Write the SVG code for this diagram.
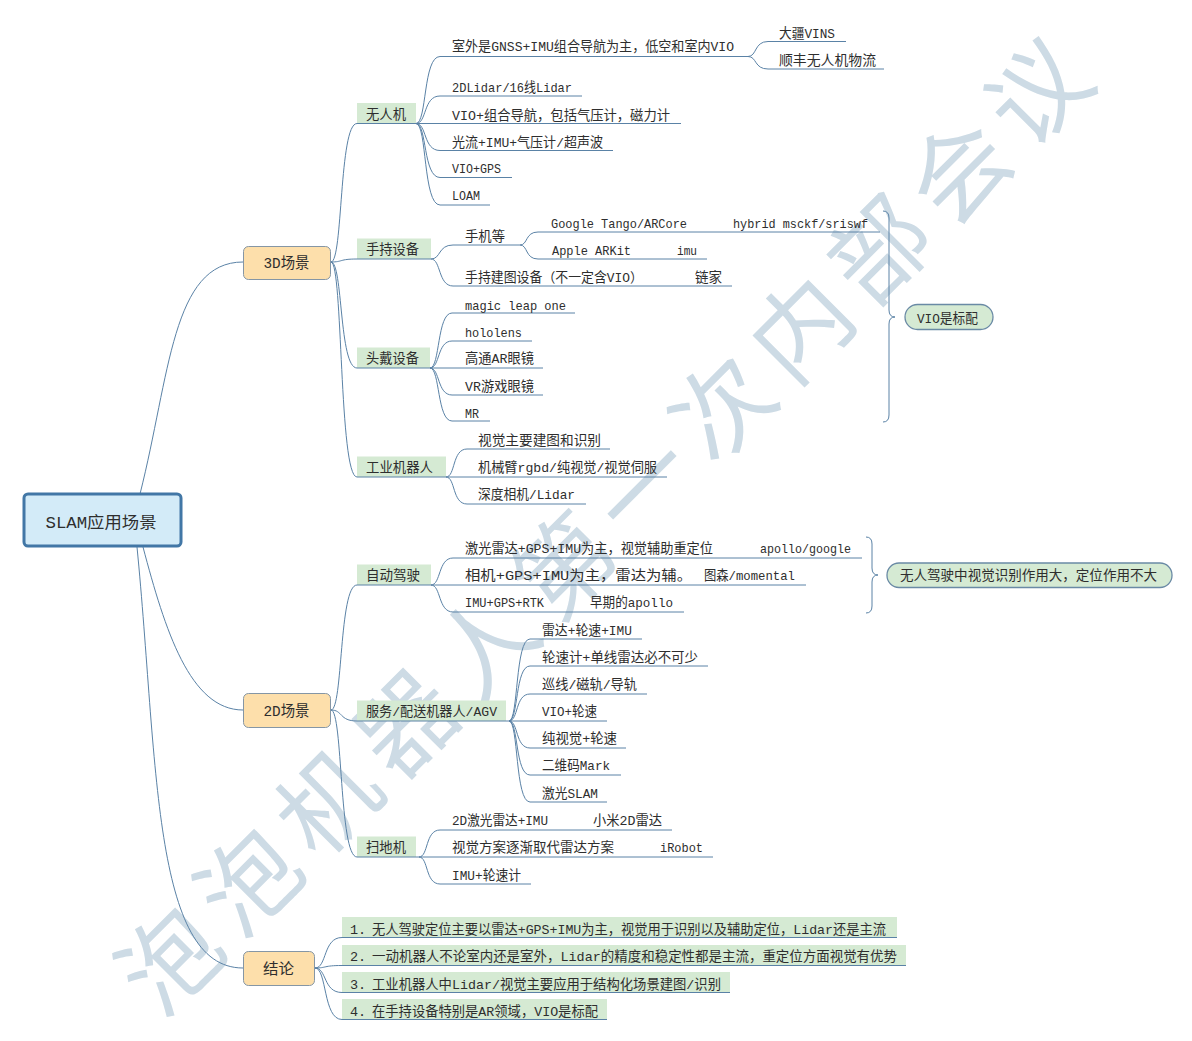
<svg xmlns="http://www.w3.org/2000/svg" width="1192" height="1041" viewBox="0 0 1192 1041">
<style>
  .t{font-family:"Liberation Mono","Noto Sans CJK SC",monospace;font-size:13.5px;fill:#2e2e2e}
  .h{font-family:"Liberation Mono","Noto Sans CJK SC",monospace;font-size:15px;fill:#2e2e2e;text-anchor:middle}
  .ln{fill:none;stroke:#5a82a6;stroke-width:1}
  .l1{fill:#fddfab;stroke:#8596a5;stroke-width:1}
  .l2{fill:#d5ead3}
  .pill{fill:#d5ead3;stroke:#6a8aa5;stroke-width:1.3}
  .wm{font-family:"Noto Sans CJK SC",sans-serif;font-size:98px;fill:#cddbe5;text-anchor:middle;dominant-baseline:central}
</style>
<rect width="1192" height="1041" fill="#ffffff"/>

<!-- background watermark, one glyph per step along the diagonal -->
<g id="watermark" class="wm">
  <text transform="translate(165,955) rotate(-45)">泡</text>
  <text transform="translate(243.9,876.1) rotate(-45)">泡</text>
  <text transform="translate(322.8,797.2) rotate(-45)">机</text>
  <text transform="translate(401.7,718.3) rotate(-45)">器</text>
  <text transform="translate(480.6,639.4) rotate(-45)">人</text>
  <text transform="translate(559.5,560.5) rotate(-45)">第</text>
  <text transform="translate(638.4,481.6) rotate(-45)">一</text>
  <text transform="translate(717.3,402.7) rotate(-45)">次</text>
  <text transform="translate(796.2,323.8) rotate(-45)">内</text>
  <text transform="translate(875.1,244.9) rotate(-45)">部</text>
  <text transform="translate(954,166) rotate(-45)">会</text>
  <text transform="translate(1033,87) rotate(-45)">议</text>
</g>

<!-- curved branch connectors -->
<g id="connectors" class="ln">
  <path d="M140,494C170,375 172,262 243,262"/>
  <path d="M143,547C165,630 190,710 243,710"/>
  <path d="M137,547C158,760 152,968 243,968"/>

  <path d="M331,262C343,262 339,123.5 357,123.5"/>
  <path d="M331,262C343,262 339,259 357,259"/>
  <path d="M331,262C343,262 339,368 357,368"/>
  <path d="M331,262C343,262 339,477 357,477"/>

  <path d="M331,710C343,710 339,585 357,585"/>
  <path d="M331,710C343,710 339,721 357,721"/>
  <path d="M331,710C343,710 339,857 357,857"/>

  <path d="M315,968C327,968 323,937.5 342,937.5"/>
  <path d="M315,968C327,968 323,965.5 342,965.5"/>
  <path d="M315,968C327,968 323,992.5 342,992.5"/>
  <path d="M315,968C327,968 323,1019.5 342,1019.5"/>

  <path d="M416,123.5C427,123.5 423,56.5 440,56.5"/>
  <path d="M416,123.5C427,123.5 423,96 440,96"/>
  <path d="M416,123.5C427,123.5 423,150.5 440,150.5"/>
  <path d="M416,123.5C427,123.5 423,177.5 440,177.5"/>
  <path d="M416,123.5C427,123.5 423,205 440,205"/>
  <path d="M748,56.5C757,56.5 754,41.5 768,41.5"/>
  <path d="M748,56.5C757,56.5 754,69 768,69"/>

  <path d="M431,259C441,259 438,245 453,245"/>
  <path d="M431,259C441,259 438,286 453,286"/>
  <path d="M520,245C528,245 525,232 538,232"/>
  <path d="M520,245C528,245 525,259 538,259"/>

  <path d="M430,368C440,368 437,313 452,313"/>
  <path d="M430,368C440,368 437,341 452,341"/>
  <path d="M430,368C440,368 437,395 452,395"/>
  <path d="M430,368C440,368 437,421 452,421"/>

  <path d="M446,477C455.5,477 452,449 467,449"/>
  <path d="M446,477C455.5,477 452,504 467,504"/>

  <path d="M431,585C441,585 438,558 453,558"/>
  <path d="M431,585C441,585 438,612 453,612"/>

  <path d="M509,721C518.5,721 515,639 530,639"/>
  <path d="M509,721C518.5,721 515,666 530,666"/>
  <path d="M509,721C518.5,721 515,694 530,694"/>
  <path d="M509,721C518.5,721 515,748 530,748"/>
  <path d="M509,721C518.5,721 515,775 530,775"/>
  <path d="M509,721C518.5,721 515,802 530,802"/>

  <path d="M419,857C428.5,857 425,830 440,830"/>
  <path d="M419,857C428.5,857 425,884 440,884"/>

  <!-- summary braces -->
  <path d="M883,211Q889,211 889,218L889,310Q889,317 895,317Q889,317 889,324L889,415Q889,422 883,422"/>
  <path d="M866,537Q872,537 872,544L872,568Q872,575 878,575Q872,575 872,582L872,606Q872,613 866,613"/>
</g>

<!-- root -->
<g id="root">
  <rect x="24" y="494" width="157" height="52" rx="4" fill="#d3ebf8" stroke="#4277a6" stroke-width="3"/>
  <text class="h" x="101" y="527.5" style="font-size:16px" textLength="111" lengthAdjust="spacingAndGlyphs">SLAM应用场景</text>
</g>

<!-- first level topics -->
<g id="scene3d">
  <rect class="l1" x="243.5" y="246.5" width="87" height="33" rx="5"/>
  <text class="h" x="286.5" y="268" textLength="46" lengthAdjust="spacingAndGlyphs">3D场景</text>
</g>
<g id="scene2d">
  <rect class="l1" x="243.5" y="693.5" width="87" height="34" rx="5"/>
  <text class="h" x="286.5" y="715.5" textLength="46" lengthAdjust="spacingAndGlyphs">2D场景</text>
</g>
<g id="conclusion">
  <rect class="l1" x="243.5" y="951.5" width="71" height="34" rx="5"/>
  <text class="h" x="278.5" y="973.5" textLength="31" lengthAdjust="spacingAndGlyphs">结论</text>
</g>

<!-- 3D: drones -->
<g id="drone">
  <rect class="l2" x="357" y="103" width="59" height="20.5"/>
  <path class="ln" d="M357,123.5H416"/>
  <text class="t" x="366" y="118.5" textLength="40" lengthAdjust="spacingAndGlyphs">无人机</text>
</g>
<g id="drone-gnss">
  <path class="ln" d="M440,56.5H748"/>
  <text class="t" x="452" y="51" textLength="282" lengthAdjust="spacingAndGlyphs">室外是GNSS+IMU组合导航为主，低空和室内VIO</text>
</g>
<g id="drone-dji">
  <path class="ln" d="M768,41.5H846"/>
  <text class="t" x="779" y="38" textLength="56" lengthAdjust="spacingAndGlyphs">大疆VINS</text>
</g>
<g id="drone-sf">
  <path class="ln" d="M768,69H884"/>
  <text class="t" x="779" y="65" textLength="97" lengthAdjust="spacingAndGlyphs">顺丰无人机物流</text>
</g>
<g id="drone-lidar">
  <path class="ln" d="M440,96H582"/>
  <text class="t" x="452" y="92" textLength="120" lengthAdjust="spacingAndGlyphs">2DLidar/16线Lidar</text>
</g>
<g id="drone-vio">
  <path class="ln" d="M416,123.5H681"/>
  <text class="t" x="452" y="120" textLength="218" lengthAdjust="spacingAndGlyphs">VIO+组合导航，包括气压计，磁力计</text>
</g>
<g id="drone-flow">
  <path class="ln" d="M440,150.5H613"/>
  <text class="t" x="452" y="147" textLength="151" lengthAdjust="spacingAndGlyphs">光流+IMU+气压计/超声波</text>
</g>
<g id="drone-gps">
  <path class="ln" d="M440,177.5H512"/>
  <text class="t" x="452" y="173" textLength="49" lengthAdjust="spacingAndGlyphs">VIO+GPS</text>
</g>
<g id="drone-loam">
  <path class="ln" d="M440,205H490"/>
  <text class="t" x="452" y="200" textLength="28" lengthAdjust="spacingAndGlyphs">LOAM</text>
</g>

<!-- 3D: handheld -->
<g id="handheld">
  <rect class="l2" x="357" y="238.5" width="74" height="20.5"/>
  <path class="ln" d="M357,259H431"/>
  <text class="t" x="366" y="253.5" textLength="53" lengthAdjust="spacingAndGlyphs">手持设备</text>
</g>
<g id="handheld-phone">
  <path class="ln" d="M453,245H520"/>
  <text class="t" x="465" y="241" textLength="40" lengthAdjust="spacingAndGlyphs">手机等</text>
</g>
<g id="handheld-tango">
  <path class="ln" d="M538,232H880"/>
  <text class="t" x="551" y="228" textLength="136" lengthAdjust="spacingAndGlyphs">Google Tango/ARCore</text>
  <text class="t" x="733" y="228" textLength="135" lengthAdjust="spacingAndGlyphs">hybrid msckf/sriswf</text>
</g>
<g id="handheld-arkit">
  <path class="ln" d="M538,259H707"/>
  <text class="t" x="552" y="255" textLength="79" lengthAdjust="spacingAndGlyphs">Apple ARKit</text>
  <text class="t" x="677" y="255" textLength="20" lengthAdjust="spacingAndGlyphs">imu</text>
</g>
<g id="handheld-mapping">
  <path class="ln" d="M453,286H732"/>
  <text class="t" x="465" y="282" textLength="178" lengthAdjust="spacingAndGlyphs">手持建图设备（不一定含VIO）</text>
  <text class="t" x="695" y="282" textLength="27" lengthAdjust="spacingAndGlyphs">链家</text>
</g>

<!-- 3D: head-mounted -->
<g id="headset">
  <rect class="l2" x="357" y="347.5" width="73" height="20.5"/>
  <path class="ln" d="M357,368H430"/>
  <text class="t" x="366" y="362.5" textLength="53" lengthAdjust="spacingAndGlyphs">头戴设备</text>
</g>
<g id="headset-magicleap">
  <path class="ln" d="M452,313H575"/>
  <text class="t" x="465" y="310" textLength="101" lengthAdjust="spacingAndGlyphs">magic leap one</text>
</g>
<g id="headset-hololens">
  <path class="ln" d="M452,341H532"/>
  <text class="t" x="465" y="337" textLength="57" lengthAdjust="spacingAndGlyphs">hololens</text>
</g>
<g id="headset-qualcomm">
  <path class="ln" d="M430,368H543"/>
  <text class="t" x="465" y="363" textLength="69" lengthAdjust="spacingAndGlyphs">高通AR眼镜</text>
</g>
<g id="headset-vr">
  <path class="ln" d="M452,395H543"/>
  <text class="t" x="465" y="391" textLength="69" lengthAdjust="spacingAndGlyphs">VR游戏眼镜</text>
</g>
<g id="headset-mr">
  <path class="ln" d="M452,421H490"/>
  <text class="t" x="465" y="418" textLength="14" lengthAdjust="spacingAndGlyphs">MR</text>
</g>

<!-- 3D: industrial robots -->
<g id="industrial">
  <rect class="l2" x="357" y="456.5" width="89" height="20.5"/>
  <path class="ln" d="M357,477H446"/>
  <text class="t" x="366" y="471.5" textLength="67" lengthAdjust="spacingAndGlyphs">工业机器人</text>
</g>
<g id="industrial-vision">
  <path class="ln" d="M467,449H610"/>
  <text class="t" x="478" y="445" textLength="123" lengthAdjust="spacingAndGlyphs">视觉主要建图和识别</text>
</g>
<g id="industrial-arm">
  <path class="ln" d="M446,477H667"/>
  <text class="t" x="478" y="472" textLength="179" lengthAdjust="spacingAndGlyphs">机械臂rgbd/纯视觉/视觉伺服</text>
</g>
<g id="industrial-depth">
  <path class="ln" d="M467,504H586"/>
  <text class="t" x="478" y="499" textLength="97" lengthAdjust="spacingAndGlyphs">深度相机/Lidar</text>
</g>

<!-- 2D: autonomous driving -->
<g id="driving">
  <rect class="l2" x="357" y="564.5" width="74" height="20.5"/>
  <path class="ln" d="M357,585H431"/>
  <text class="t" x="366" y="579.5" textLength="54" lengthAdjust="spacingAndGlyphs">自动驾驶</text>
</g>
<g id="driving-lidar">
  <path class="ln" d="M453,558H862"/>
  <text class="t" x="465" y="553" textLength="248" lengthAdjust="spacingAndGlyphs">激光雷达+GPS+IMU为主，视觉辅助重定位</text>
  <text class="t" x="760" y="553" textLength="91" lengthAdjust="spacingAndGlyphs">apollo/google</text>
</g>
<g id="driving-camera">
  <path class="ln" d="M431,585H806"/>
  <text class="t" x="465" y="580" textLength="227" lengthAdjust="spacingAndGlyphs">相机+GPS+IMU为主，雷达为辅。</text>
  <text class="t" x="704" y="580" textLength="91" lengthAdjust="spacingAndGlyphs">图森/momental</text>
</g>
<g id="driving-rtk">
  <path class="ln" d="M453,612H684"/>
  <text class="t" x="465" y="607" textLength="79" lengthAdjust="spacingAndGlyphs">IMU+GPS+RTK</text>
  <text class="t" x="590" y="607" textLength="83" lengthAdjust="spacingAndGlyphs">早期的apollo</text>
</g>

<!-- 2D: service / delivery robots -->
<g id="service">
  <rect class="l2" x="357" y="700.5" width="149" height="20.5"/>
  <path class="ln" d="M357,721H509"/>
  <text class="t" x="366" y="715.5" textLength="131" lengthAdjust="spacingAndGlyphs">服务/配送机器人/AGV</text>
</g>
<g id="service-1">
  <path class="ln" d="M530,639H642"/>
  <text class="t" x="542" y="635" textLength="90" lengthAdjust="spacingAndGlyphs">雷达+轮速+IMU</text>
</g>
<g id="service-2">
  <path class="ln" d="M530,666H708"/>
  <text class="t" x="542" y="662" textLength="156" lengthAdjust="spacingAndGlyphs">轮速计+单线雷达必不可少</text>
</g>
<g id="service-3">
  <path class="ln" d="M530,694H647"/>
  <text class="t" x="542" y="689" textLength="95" lengthAdjust="spacingAndGlyphs">巡线/磁轨/导轨</text>
</g>
<g id="service-4">
  <path class="ln" d="M509,721H607"/>
  <text class="t" x="542" y="716" textLength="55" lengthAdjust="spacingAndGlyphs">VIO+轮速</text>
</g>
<g id="service-5">
  <path class="ln" d="M530,748H626"/>
  <text class="t" x="542" y="743" textLength="75" lengthAdjust="spacingAndGlyphs">纯视觉+轮速</text>
</g>
<g id="service-6">
  <path class="ln" d="M530,775H621"/>
  <text class="t" x="542" y="770" textLength="68" lengthAdjust="spacingAndGlyphs">二维码Mark</text>
</g>
<g id="service-7">
  <path class="ln" d="M530,802H607"/>
  <text class="t" x="542" y="798" textLength="56" lengthAdjust="spacingAndGlyphs">激光SLAM</text>
</g>

<!-- 2D: robot vacuums -->
<g id="vacuum">
  <rect class="l2" x="357" y="836.5" width="59" height="20.5"/>
  <path class="ln" d="M357,857H419"/>
  <text class="t" x="366" y="852" textLength="40" lengthAdjust="spacingAndGlyphs">扫地机</text>
</g>
<g id="vacuum-lidar">
  <path class="ln" d="M440,830H672"/>
  <text class="t" x="452" y="825" textLength="96" lengthAdjust="spacingAndGlyphs">2D激光雷达+IMU</text>
  <text class="t" x="593" y="825" textLength="69" lengthAdjust="spacingAndGlyphs">小米2D雷达</text>
</g>
<g id="vacuum-vision">
  <path class="ln" d="M419,857H713"/>
  <text class="t" x="452" y="852" textLength="162" lengthAdjust="spacingAndGlyphs">视觉方案逐渐取代雷达方案</text>
  <text class="t" x="660" y="852" textLength="43" lengthAdjust="spacingAndGlyphs">iRobot</text>
</g>
<g id="vacuum-odom">
  <path class="ln" d="M440,884H531"/>
  <text class="t" x="452" y="880" textLength="69" lengthAdjust="spacingAndGlyphs">IMU+轮速计</text>
</g>

<!-- conclusions -->
<g id="conclusion-1">
  <rect class="l2" x="342" y="917" width="555" height="20.5"/>
  <path class="ln" d="M342,937.5H897"/>
  <text class="t" x="350" y="933.5">1.</text>
  <text class="t" x="372" y="933.5" textLength="514" lengthAdjust="spacingAndGlyphs">无人驾驶定位主要以雷达+GPS+IMU为主，视觉用于识别以及辅助定位，Lidar还是主流</text>
</g>
<g id="conclusion-2">
  <rect class="l2" x="342" y="945" width="564" height="20.5"/>
  <path class="ln" d="M342,965.5H906"/>
  <text class="t" x="350" y="961">2.</text>
  <text class="t" x="372" y="961" textLength="525" lengthAdjust="spacingAndGlyphs">一动机器人不论室内还是室外，Lidar的精度和稳定性都是主流，重定位方面视觉有优势</text>
</g>
<g id="conclusion-3">
  <rect class="l2" x="342" y="972" width="388" height="20.5"/>
  <path class="ln" d="M342,992.5H730"/>
  <text class="t" x="350" y="988.5">3.</text>
  <text class="t" x="372" y="988.5" textLength="349" lengthAdjust="spacingAndGlyphs">工业机器人中Lidar/视觉主要应用于结构化场景建图/识别</text>
</g>
<g id="conclusion-4">
  <rect class="l2" x="342" y="999" width="265" height="20.5"/>
  <path class="ln" d="M342,1019.5H607"/>
  <text class="t" x="350" y="1015.5">4.</text>
  <text class="t" x="372" y="1015.5" textLength="226" lengthAdjust="spacingAndGlyphs">在手持设备特别是AR领域，VIO是标配</text>
</g>

<!-- summary callouts -->
<g id="summary-vio">
  <rect class="pill" x="905" y="304.5" width="88" height="25" rx="12.5"/>
  <text class="t" x="917" y="322.5" textLength="61" lengthAdjust="spacingAndGlyphs">VIO是标配</text>
</g>
<g id="summary-driving">
  <rect class="pill" x="887" y="563" width="285" height="24.5" rx="12"/>
  <text class="t" x="900" y="580" textLength="257" lengthAdjust="spacingAndGlyphs">无人驾驶中视觉识别作用大，定位作用不大</text>
</g>
</svg>
